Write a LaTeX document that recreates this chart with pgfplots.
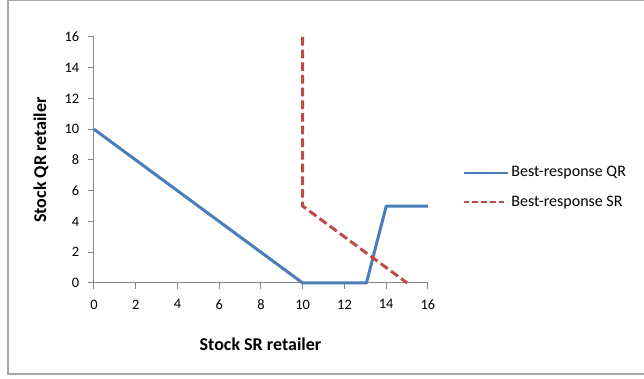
\documentclass[border=0pt]{standalone}
\usepackage{fontspec}
\setmainfont{Carlito}
\usepackage{pgfplots}
\pgfplotsset{compat=1.18}

\definecolor{qrblue}{HTML}{4A7EBB}
\definecolor{srred}{HTML}{BE4B48}
\definecolor{axgray}{HTML}{868686}
\definecolor{framegray}{HTML}{A6A6A6}

\begin{document}
\begin{tikzpicture}
% page area and chart frame
\useasboundingbox (0,0) rectangle (483pt,284.25pt);
\draw[framegray, line width=1.1pt] (6pt,3.75pt) rectangle (500pt,283.9pt);

\begin{axis}[
  at={(70.5pt,72pt)}, anchor=south west,
  scale only axis, width=250.5pt, height=184.5pt,
  xmin=0, xmax=16, ymin=0, ymax=16,
  xtick={0,2,...,16}, ytick={0,2,...,16},
  axis x line*=bottom, axis y line*=left,
  axis line style={axgray, line width=0.75pt, -},
  tick align=outside, major tick length=4.5pt,
  tick style={axgray, line width=0.75pt},
  ticklabel style={font=\fontsize{10.8}{13}\selectfont},
  xticklabel style={yshift=-4.5pt},
  yticklabel style={xshift=-3pt},
  /pgf/number format/assume math mode=true,
  xlabel={Stock SR retailer},
  ylabel={Stock QR retailer},
  label style={font=\bfseries\fontsize{13.5}{16}\selectfont},
  xlabel style={at={(axis description cs:0.4985,-0.248)}, anchor=center},
  ylabel style={at={(axis description cs:-0.159,0.5)}, anchor=center},
  clip=false,
  legend style={at={(axis description cs:1.103,0.388)}, anchor=west,
    draw=none, fill=none, inner sep=0pt,
    font=\fontsize{12}{14}\selectfont, row sep=9pt},
  legend cell align=left,
]
\addplot[qrblue, line width=2.25pt, line join=round,
  legend image code/.code={\draw[qrblue, line width=1.5pt] (0pt,0pt) -- (33pt,0pt);}]
  coordinates {(0,10) (10,0) (13.05,0) (14,5) (16,5)};
\addlegendentry{Best-response QR}
\addplot[srred, line width=2.25pt, dash pattern=on 6.5pt off 3pt,
  legend image code/.code={\draw[srred, line width=1.5pt, dash pattern=on 4.2pt off 2.4pt] (0pt,0pt) -- (33pt,0pt);}]
  coordinates {(10,16) (10,5) (15,0)};
\addlegendentry{Best-response SR}
\end{axis}
\end{tikzpicture}
\end{document}
